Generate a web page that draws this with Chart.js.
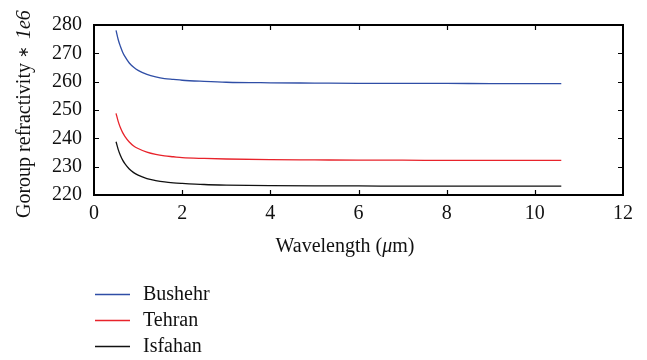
<!DOCTYPE html>
<html>
<head>
<meta charset="utf-8">
<script src="https://cdn.jsdelivr.net/npm/chart.js@4/dist/chart.umd.min.js"></script>
<style>
  html, body { margin: 0; padding: 0; background: #fff; }
  #wrap { width: 647px; height: 360px; }
</style>
</head>
<body>
<div id="wrap"><canvas id="chart" width="647" height="360"></canvas></div>
<script>
// Wavelength samples (µm)
const wavelengths = [0.5, 0.55, 0.6, 0.65, 0.7, 0.8, 0.9, 1.0, 1.2, 1.4, 1.6, 1.8, 2.0, 2.5, 3.0, 4.0, 5.0, 6.0, 7.0, 8.0, 9.0, 10.0, 10.6];

// Group refractivity (×1e6) per city
const bushehr = [278.1, 274.8, 272.4, 270.4, 268.9, 266.6, 265.1, 264.0, 262.6, 261.7, 261.1, 260.8, 260.5, 260.1, 259.8, 259.6, 259.5, 259.4, 259.4, 259.4, 259.3, 259.3, 259.3];
const tehran  = [248.8, 245.9, 243.7, 242.0, 240.7, 238.7, 237.3, 236.4, 235.1, 234.3, 233.8, 233.5, 233.2, 232.9, 232.7, 232.5, 232.4, 232.3, 232.3, 232.2, 232.2, 232.2, 232.2];
const isfahan = [238.8, 236.0, 233.9, 232.3, 231.1, 229.2, 227.9, 227.0, 225.8, 225.1, 224.6, 224.3, 224.1, 223.7, 223.5, 223.3, 223.2, 223.2, 223.1, 223.1, 223.1, 223.1, 223.1];

const seriesNames = ['Bushehr', 'Tehran', 'Isfahan'];
const seriesColors = ['#2f4ea6', '#e8232b', '#111111'];

// Axis ticks
const xTicks = [0, 2, 4, 6, 8, 10, 12];
const yTicks = [220, 230, 240, 250, 260, 270, 280];

const FONT = '"Liberation Serif", "Times New Roman", serif';

const toPoints = vals => vals.map((v, i) => ({ x: wavelengths[i], y: v }));

// Closed frame with inward tick marks on all four sides
const framePlugin = {
  id: 'frame',
  afterDatasetsDraw(chart) {
    const { ctx, chartArea: a, scales: { x, y } } = chart;
    const len = 5;
    ctx.save();
    ctx.strokeStyle = '#000';
    ctx.lineWidth = 1.2;
    ctx.beginPath();
    xTicks.forEach(v => {
      const px = Math.round(x.getPixelForValue(v)) + 0.5;
      if (v === xTicks[0] || v === xTicks[xTicks.length - 1]) return;
      ctx.moveTo(px, a.bottom); ctx.lineTo(px, a.bottom - len);
      ctx.moveTo(px, a.top); ctx.lineTo(px, a.top + len);
    });
    yTicks.forEach(v => {
      const py = Math.round(y.getPixelForValue(v)) + 0.5;
      if (v === yTicks[0] || v === yTicks[yTicks.length - 1]) return;
      ctx.moveTo(a.left, py); ctx.lineTo(a.left + len, py);
      ctx.moveTo(a.right, py); ctx.lineTo(a.right - len, py);
    });
    ctx.stroke();
    ctx.lineWidth = 2;
    ctx.strokeRect(a.left, a.top, a.right - a.left, a.bottom - a.top);
    ctx.restore();
  }
};

// Axis titles (with italic parts) and the legend below the plot
const textPlugin = {
  id: 'texts',
  afterDraw(chart) {
    const { ctx } = chart;
    ctx.save();
    ctx.fillStyle = '#111';
    ctx.textBaseline = 'alphabetic';

    // x-axis title: Wavelength (μm)
    const xParts = [['Wavelength (', '', 20], ['\u03bc', 'italic ', 20], ['m)', '', 20]];
    let total = 0;
    xParts.forEach(([t, s, f]) => { ctx.font = s + f + 'px ' + FONT; total += ctx.measureText(t).width; });
    let cx = 345 - total / 2;
    xParts.forEach(([t, s, f]) => {
      ctx.font = s + f + 'px ' + FONT;
      ctx.textAlign = 'left';
      ctx.fillText(t, cx, 252);
      cx += ctx.measureText(t).width;
    });

    // y-axis title, rotated
    ctx.save();
    ctx.translate(30, 218);
    ctx.rotate(-Math.PI / 2);
    const yParts = [['Goroup refractivity ', '', 20], ['\u2217', '', 14], [' ', '', 20], ['1e6', 'italic ', 20]];
    let yx = 0;
    yParts.forEach(([t, s, f]) => {
      ctx.font = s + f + 'px ' + FONT;
      ctx.textAlign = 'left';
      ctx.fillText(t, yx, f === 14 ? -2 : 0);
      yx += ctx.measureText(t).width + (f === 14 ? 2 : 0);
    });
    ctx.restore();

    // legend
    const rowY = [294, 320, 346];
    ctx.font = '20px ' + FONT;
    ctx.textAlign = 'left';
    ctx.textBaseline = 'middle';
    chart.data.datasets.forEach((ds, i) => {
      const yy = rowY[i];
      ctx.strokeStyle = ds.borderColor;
      ctx.lineWidth = 1.5;
      ctx.beginPath();
      ctx.moveTo(95, yy + 0.5);
      ctx.lineTo(130, yy + 0.5);
      ctx.stroke();
      ctx.fillStyle = '#111';
      ctx.fillText(ds.label, 143, yy + 1);
    });
    ctx.restore();
  }
};

new Chart(document.getElementById('chart'), {
  type: 'line',
  data: {
    datasets: seriesNames.map((name, i) => ({
      label: name,
      data: toPoints([bushehr, tehran, isfahan][i]),
      borderColor: seriesColors[i],
      backgroundColor: seriesColors[i],
      borderWidth: 1.3,
      pointRadius: 0,
      cubicInterpolationMode: 'monotone',
      fill: false
    }))
  },
  options: {
    responsive: false,
    animation: false,
    events: [],
    layout: { padding: { left: 0, top: 25, right: 24, bottom: 0 } },
    plugins: { legend: { display: false }, tooltip: { enabled: false } },
    scales: {
      x: {
        type: 'linear',
        min: 0, max: 12,
        afterBuildTicks: s => { s.ticks = xTicks.map(v => ({ value: v })); },
        afterFit: s => { s.height = 165; },
        grid: { display: false, drawTicks: false },
        border: { display: false },
        ticks: { color: '#111', font: { family: FONT, size: 20 }, padding: 7, maxRotation: 0 }
      },
      y: {
        type: 'linear',
        min: 220, max: 280,
        afterBuildTicks: s => { s.ticks = yTicks.map(v => ({ value: v })); },
        afterFit: s => { s.width = 94; },
        grid: { display: false, drawTicks: false },
        border: { display: false },
        ticks: { color: '#111', font: { family: FONT, size: 20 }, padding: 12 }
      }
    }
  },
  plugins: [framePlugin, textPlugin]
});
</script>
</body>
</html>
